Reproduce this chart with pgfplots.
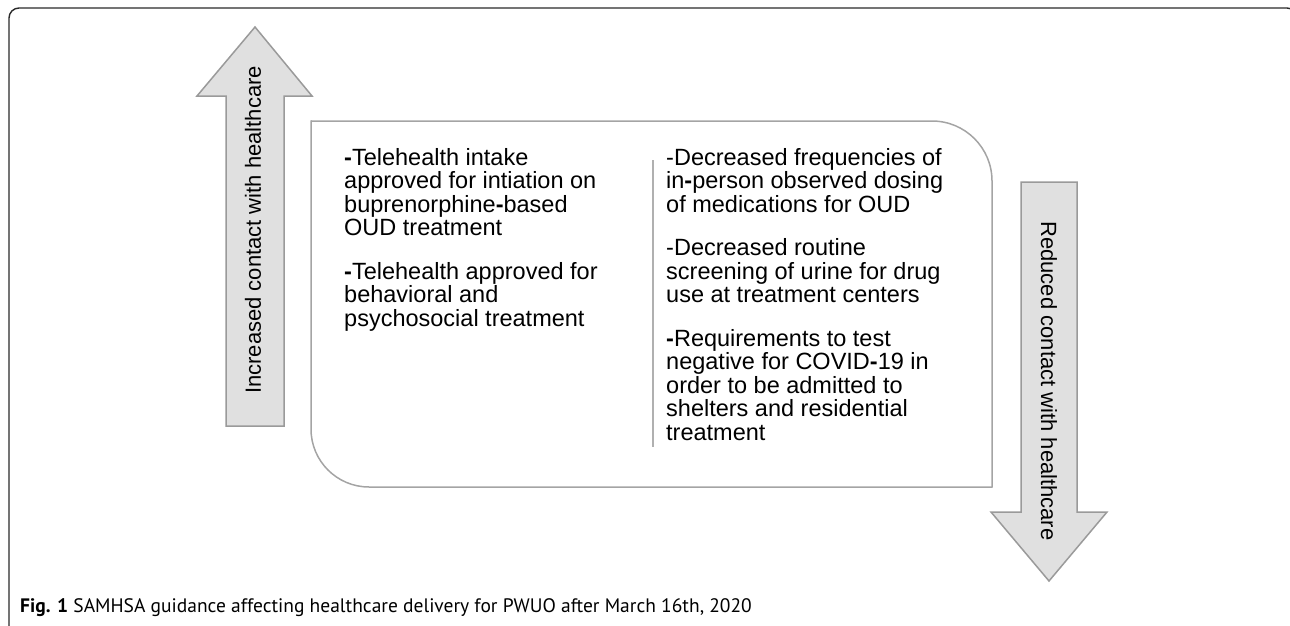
\documentclass[border=0pt]{standalone}
\usepackage{pgfplots}
\pgfplotsset{compat=1.18}
\usepackage{fontspec}
\setmainfont{Liberation Sans}
\newfontfamily\capfont{PT Sans}
\definecolor{arrowfill}{HTML}{E0E0E0}
\definecolor{arrowdraw}{HTML}{9A9A9A}
\definecolor{boxdraw}{HTML}{A4A4A4}
\definecolor{divcol}{HTML}{B0B0B0}
\definecolor{framecol}{HTML}{2A2A2A}
\newcommand{\bh}{\textbf{-}}
\begin{document}
\begin{tikzpicture}
\begin{axis}[
  at={(0,0)}, anchor=south west,
  scale only axis, width=1290pt, height=626pt,
  xmin=0, xmax=1290, ymin=0, ymax=626, y dir=reverse,
  hide axis, clip=false]
% outer frame
\draw[framecol, line width=1.4pt, rounded corners=10pt] (9,640) -- (9,8) -- (1297,8) -- (1297,640);
% up arrow
\addplot[fill=arrowfill, draw=arrowdraw, line width=1.5pt] coordinates {(255,27) (312,96) (284,96) (284,426) (226,426) (226,96) (197,96)} -- cycle;
% down arrow
\addplot[fill=arrowfill, draw=arrowdraw, line width=1.5pt] coordinates {(1021,182) (1077,182) (1077,512) (1107,512) (1049,581) (991,512) (1021,512)} -- cycle;
% main box
\draw[boxdraw, line width=1.5pt, rounded corners=60pt] (311,121) -- (992,121) -- (992,487.7);
\draw[boxdraw, line width=1.5pt, rounded corners=58pt] (992,487) -- (311,487) -- (311,120.3);
% divider
\addplot[divcol, line width=1.5pt] coordinates {(653,160) (653,447)};
% rotated labels
\node[rotate=90, inner sep=0, font=\fontsize{22}{24}\selectfont] at (253,230) {Increased contact with healthcare};
\node[rotate=-90, inner sep=0, font=\fontsize{22}{24}\selectfont] at (1049,381) {Reduced contact with healthcare};
\begin{scope}[every node/.style={anchor=base west, inner sep=0, font=\fontsize{23.5}{24}\selectfont}]
% left column
\node at (344,165.4) {\bh Telehealth intake};
\node at (344,188.9) {approved for intiation on};
\node at (344,212.4) {buprenorphine\bh based};
\node at (344,235.9) {OUD treatment};
\node at (344,279.4) {\bh Telehealth approved for};
\node at (344,302.9) {behavioral and};
\node at (344,326.4) {psychosocial treatment};
% right column
\node at (666,165.4) {-Decreased frequencies of};
\node at (666,188.9) {in\bh person observed dosing};
\node at (666,212.4) {of medications for OUD};
\node at (666,255.9) {-Decreased routine};
\node at (666,279.4) {screening of urine for drug};
\node at (666,302.9) {use at treatment centers};
\node at (666,346.4) {\bh Requirements to test};
\node at (666,369.9) {negative for COVID\bh 19 in};
\node at (666,393.4) {order to be admitted to};
\node at (666,416.9) {shelters and residential};
\node at (666,440.4) {treatment};
\end{scope}
% caption
\node[anchor=base west, inner sep=0, font=\capfont\fontsize{19.5}{22}\selectfont] at (20,612) {\textbf{Fig. 1} SAMHSA guidance affecting healthcare delivery for PWUO after March 16th, 2020};
\end{axis}
\pgfresetboundingbox
\path[use as bounding box] (0,0) rectangle (1290pt,626pt);
\end{tikzpicture}
\end{document}
